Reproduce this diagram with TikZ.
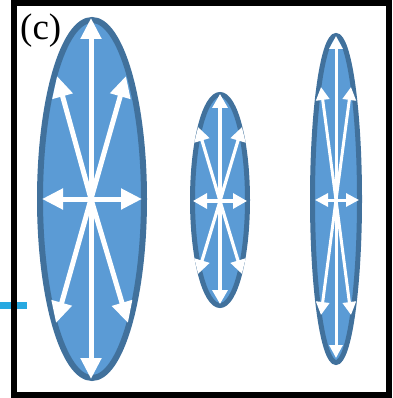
\documentclass[tikz,border=0pt]{standalone}
\usepackage{fontspec}
\setmainfont{Liberation Serif}
\usetikzlibrary{arrows.meta}
\definecolor{ellfill}{HTML}{5B9BD5}
\definecolor{elldraw}{HTML}{41719C}
\definecolor{stub}{HTML}{27A9E1}
\tikzset{
  ell/.style={fill=ellfill,draw=elldraw},
  bigarr/.style={draw=white,line width=5pt,-{Triangle[width=20pt,length=21pt]}},
  smallarr/.style={draw=white,line width=3.2pt,-{Triangle[width=15pt,length=14pt]}},
  thinarr/.style={draw=white,line width=3pt,-{Triangle[width=13pt,length=13pt]}},
  frame/.style={draw=black,line width=5.5pt}
}
\begin{document}
\begin{tikzpicture}[x=1pt,y=-1pt]
\useasboundingbox (0,0) rectangle (392,398);
% left stub
\draw[stub,line width=7pt] (0,305.5) -- (27,305.5);
% frame
\draw[frame] (14,3.2) rectangle (389,395);
% label
\node[anchor=north west,inner sep=0pt,font=\fontsize{37}{37}\selectfont] (lab) at (20,14) {(c)};
% big ellipse
\draw[ell,line width=6pt] (92,199) ellipse [x radius=52,y radius=179];
\coordinate (A) at (91,199);
\foreach \p in {(91,18),(91,379),(42,199),(142,199),(57,76),(126,76),(56,323),(128,323)}
  \draw[bigarr] (A) -- \p;
% middle ellipse
\draw[ell,line width=5pt] (220,200) ellipse [x radius=27.5,y radius=105.5];
\coordinate (B) at (220,201);
\foreach \p in {(220,94),(220,304),(193,201),(247,201),(198,127),(242,127),(198,274),(242,274)}
  \draw[smallarr] (B) -- \p;
% right ellipse
\draw[ell,line width=5pt] (336,199) ellipse [x radius=23.5,y radius=163.5];
\coordinate (C) at (336,200);
\foreach \p in {(336,36),(336,358),(315,200),(359,200),(321,87),(351,87),(321,315),(351,315)}
  \draw[thinarr] (C) -- \p;
\end{tikzpicture}
\end{document}
